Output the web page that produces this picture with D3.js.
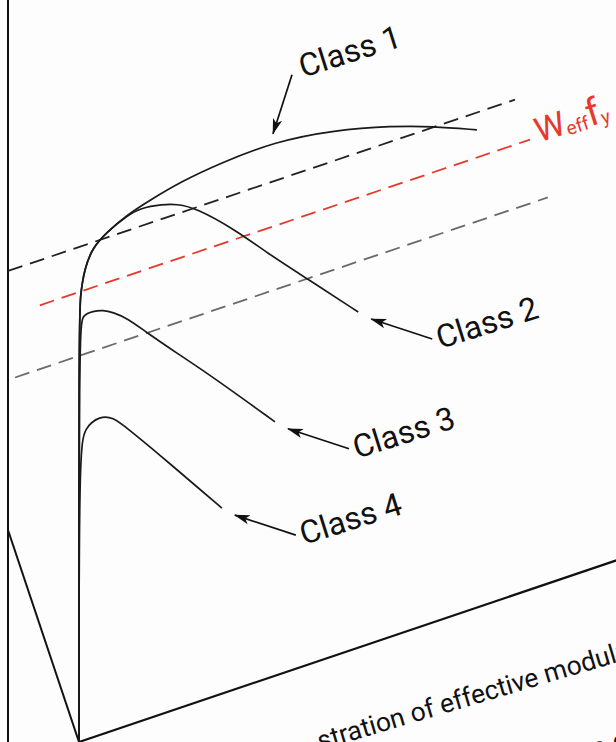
<!DOCTYPE html>
<html>
<head>
<meta charset="utf-8">
<script src="https://cdn.jsdelivr.net/npm/d3@7"></script>
<style>
  body { margin: 0; background: #fff; }
  svg text { font-family: Roboto, "DejaVu Sans", sans-serif; }
</style>
</head>
<body>
<div id="chart"></div>
<script>
// moment / rotation curves, [rotation, M / Mpl]
var classNames = ["Class 1", "Class 2", "Class 3", "Class 4"];
var class1 = [[0,0],[0,0.832],[0.02,0.902],[0.11,0.955],[0.26,0.990],[0.52,1.011],[0.89,1.032],[1.32,1.046],[1.88,1.062],[2.63,1.073],[3.65,1.079],[4.75,1.062],[5.85,1.030],[6.57,1.003],[7.41,0.965]];
var class2 = [[0,0],[0,0.832],[0.02,0.902],[0.11,0.955],[0.26,0.990],[0.52,1.011],[0.89,1.030],[1.14,1.037],[1.56,1.029],[1.82,1.020],[2.18,0.999],[2.92,0.927],[3.50,0.860],[4.23,0.782],[5.20,0.678]];
var class3 = [[0,0],[0,0.838],[0.07,0.860],[0.26,0.861],[0.45,0.856],[0.63,0.845],[0.89,0.824],[1.27,0.780],[1.82,0.719],[2.44,0.652],[3.65,0.513]];
var class4 = [[0,0],[0,0.590],[0.11,0.632],[0.39,0.644],[0.63,0.633],[0.89,0.602],[1.51,0.524],[2.25,0.428],[2.66,0.375]];

// reference moment levels (dashed)
var levelValues = [1.0, 0.909, 0.78];
var levelFrom = [-1.32, -0.73, -1.19];
var levelTo = [8.12, 8.40, 8.73];
var levelColors = ["#222", "#e8382b", "#6a6a6a"];

var W = 616, H = 742;
var X0 = 79, Y0 = 742, skew = 0.338;   // skewed sketch projection
var depth = [-71, -212];

var kScale = d3.scaleLinear().domain([0, 10]).range([0, 537]);
var mScale = d3.scaleLinear().domain([0, 1]).range([0, 495]);

function project(k, m, z){
	z = z || 0;
	var a = kScale(k);
	return [X0 + a + z*depth[0], Y0 - skew*a - mScale(m) + z*depth[1]];
}

var svg = d3.select("#chart").append("svg")
	.attr("width", W)
	.attr("height", H);

svg.append("rect").attr("width", W).attr("height", H).attr("fill", "#fdfdfd");

var defs = svg.append("defs");
defs.append("marker")
	.attr("id", "head")
	.attr("markerUnits", "userSpaceOnUse")
	.attr("viewBox", "0 -6 16 12")
	.attr("refX", 15).attr("refY", 0)
	.attr("markerWidth", 16).attr("markerHeight", 12)
	.attr("orient", "auto")
	.append("path")
	.attr("d", "M0,-4.8 L16,0 L0,4.8 L4,0 Z")
	.attr("fill", "#111");
// the source picture is a crop: caption only shows from x=316 on
defs.append("clipPath").attr("id", "capclip")
	.append("rect").attr("x", 316).attr("y", 0).attr("width", 300).attr("height", H);

var straight = d3.line();

// frame / axes of the sketch
svg.append("path")
	.attr("d", straight([project(0, -0.45, 1), project(0, 1.1, 1)]))
	.attr("stroke", "#111").attr("stroke-width", 2).attr("fill", "none");
svg.append("path")
	.attr("d", straight([project(0, 0, 0), project(0, 0, 1)]))
	.attr("stroke", "#111").attr("stroke-width", 2).attr("fill", "none");
svg.append("path")
	.attr("d", straight([project(0, 0), project(10.4, 0)]))
	.attr("stroke", "#111").attr("stroke-width", 2.2).attr("fill", "none");

// dashed moment levels
levelValues.forEach(function(v, i){
	svg.append("path")
		.attr("d", straight([project(levelFrom[i], v), project(levelTo[i], v)]))
		.attr("stroke", levelColors[i])
		.attr("stroke-width", 1.8)
		.attr("stroke-dasharray", "15,8")
		.attr("fill", "none");
});

// curves
var curve = d3.line().curve(d3.curveBasis);
var allClasses = [class1, class2, class3, class4];
allClasses.forEach(function(c){
	svg.append("path")
		.attr("d", curve(c.map(function(p){ return project(p[0], p[1]); })))
		.attr("stroke", "#1a1a1a")
		.attr("stroke-width", 1.7)
		.attr("fill", "none");
});

// labels with arrows
var angle = -17.5;
function label(txt, x, y, size){
	svg.append("text")
		.attr("transform", "translate(" + x + "," + y + ") rotate(" + angle + ")")
		.attr("font-size", size)
		.attr("fill", "#111")
		.text(txt);
}
function arrow(from, to){
	svg.append("path")
		.attr("d", straight([from, to]))
		.attr("stroke", "#111").attr("stroke-width", 1.7)
		.attr("marker-end", "url(#head)");
}

// class 1 arrow points onto the curve from above
var c1 = project(class1[10][0], class1[10][1]);
var tip1 = [c1[0] - 2, c1[1] - 8];
arrow([tip1[0] + 19, tip1[1] - 59], tip1);
label(classNames[0], tip1[0] + 30, tip1[1] - 56, 32);

[class2, class3, class4].forEach(function(c, i){
	var e = project(c[c.length - 1][0], c[c.length - 1][1]);
	var tip = [e[0] + 13, e[1] + 7];
	var tail = [tip[0] + 61, tip[1] + 20];
	arrow(tail, tip);
	label(classNames[i + 1], tail[0] + 8, tail[1] + 10, 32);
});

// W_eff f_y at end of red line
var r = project(levelTo[1], levelValues[1]);
var wl = svg.append("text")
	.attr("transform", "translate(" + (r[0] + 9) + "," + (r[1] + 3) + ") rotate(" + angle + ")")
	.attr("fill", "#e8382b")
	.attr("font-size", 34);
wl.append("tspan").text("W");
wl.append("tspan").attr("font-size", 19).attr("dy", 2).text("eff");
wl.append("tspan").attr("font-size", 38).attr("dy", -2).text("f");
wl.append("tspan").attr("font-size", 19).attr("dy", 2).text("y");

// caption running off the bottom
var cap = svg.append("g").attr("clip-path", "url(#capclip)");
cap.append("text")
	.attr("transform", "translate(287,760) rotate(-16.5)")
	.attr("font-size", 26.5)
	.attr("fill", "#111")
	.text("Illustration of effective modulus");
cap.append("text")
	.attr("transform", "translate(505,789) rotate(-16.5)")
	.attr("font-size", 26.5)
	.attr("fill", "#111")
	.text("Figure 10.2");
</script>
</body>
</html>
